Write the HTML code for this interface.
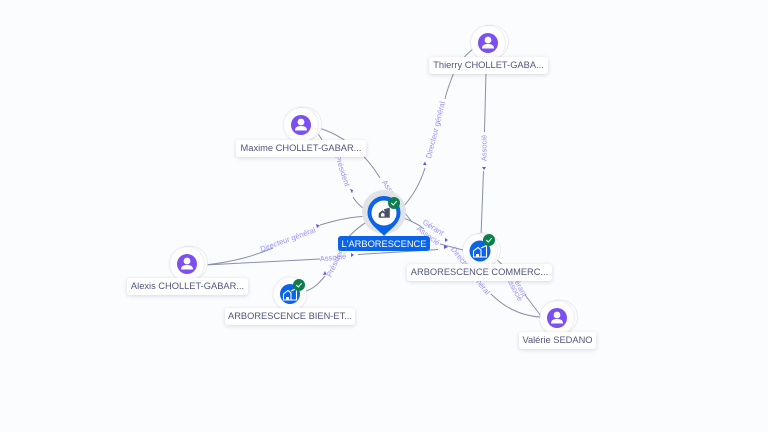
<!DOCTYPE html>
<html><head><meta charset="utf-8"><style>
html,body{margin:0;padding:0;width:768px;height:432px;overflow:hidden;background:#fbfcfe}
svg{position:absolute;left:0;top:0}
.l{fill:none;stroke:#8a8fa8;stroke-width:1}
.t{font:7.600px "Liberation Sans",sans-serif;fill:#9a90f2;text-anchor:middle;dominant-baseline:middle}
.a{fill:#6a50e8}
.lb{position:absolute;background:#fff;border-radius:3px;box-shadow:0 1px 4px rgba(60,70,110,.2);font:9.300px/17px "Liberation Sans",sans-serif;color:#50547c;text-align:center;white-space:nowrap;overflow:hidden}
</style></head><body>
<svg width="768" height="432" viewBox="0 0 768 432">
<defs>
<filter id="s" x="-30%" y="-30%" width="160%" height="160%"><feDropShadow dx="0" dy="0" stdDeviation="1" flood-color="#6b7090" flood-opacity=".35"/></filter>
<g id="p"><circle r="10" fill="#7b4ff0"/><circle cy="-3" r="3.400" fill="#fff"/><path d="M-6 5.500c0-3.500 2.500-4.500 6-4.500s6 1 6 4.500z" fill="#fff"/></g>
<g id="c"><circle r="6" fill="#0b7f4c"/><path d="M-2.700 0l2 2 3.400-3.800" fill="none" stroke="#fff" stroke-width="1"/></g>
<g id="n"><circle cx="3.500" cy="-1" r="17" fill="#fff" stroke="#e6e7ec" stroke-width=".8"/><circle r="17" fill="#fff" filter="url(#s)"/></g>
<g id="b"><path d="M-6.500 6v-6l4.500-3.500 3 2.500v7zM1-3l5.500-2.500v11.500h-5.500" fill="none" stroke="#fff" stroke-width="1.100"/><path d="M-4 6v-3h3v3z" fill="#fff"/></g>
</defs>
<path class="l" d="M205 265C240 261 255 255 273 248M320 225C340 219 352 217 368 216"/>
<path class="l" d="M205 265L320 259M358 254.500L438 249.500"/>
<path class="l" d="M319 128C348 137 368 158 380 178M398 204L412 222"/>
<path class="l" d="M317 132L329 151M353 197C357 204 362 208 368 211"/>
<path class="l" d="M473 49C463 57 456 66 451 80C448 88 446 94 445 99M425 168C420 184 412 198 400 210"/>
<path class="l" d="M486 72L484.500 132M483.500 171L481 236"/>
<path class="l" d="M400 217C410 220 418 224 424 229M440 244L467 251"/>
<path class="l" d="M493 256L510 272M525 295L541 316"/>
<path class="l" d="M491 294C505 308 522 316 541 317"/>
<path class="l" d="M306 291C315 288 320 282 325 276M338 250C345 240 356 228 367 222"/>
<text class="t" transform="translate(288 240) rotate(-20)">Directeur général</text>
<text class="t" transform="translate(342 171) rotate(72)">Président</text>
<text class="t" transform="translate(391 192) rotate(55)">Associé</text>
<text class="t" transform="translate(436 130) rotate(-76)">Directeur général</text>
<text class="t" transform="translate(484.500 148) rotate(-90)">Associé</text>
<text class="t" transform="translate(433 228) rotate(32)">Gérant</text>
<text class="t" transform="translate(428 236) rotate(38)">Associé</text>
<text class="t" transform="translate(470 271) rotate(52)">Directeur général</text>
<text class="t" transform="translate(519 286) rotate(62)">Gérant</text>
<text class="t" transform="translate(514 289) rotate(62)">Associé</text>
<text class="t" transform="translate(333 258) rotate(-6)">Associé</text>
<text class="t" transform="translate(336 262) rotate(-65)">Président</text>
<path class="a" d="M316 224l4 1.500-3 2.500zM350 189l3 1-1 3.500zM423 165l2-3.500 1.500 3.500zM482 167h4l-2 3zM445 238l3 2-3 2zM444 245l4 2-4 2zM351 253l3 2-3 2zM323 275l2-4 1.500 3.500z"/>
<use href="#n" x="488" y="43"/><use href="#p" x="488" y="43"/>
<use href="#n" x="301" y="125"/><use href="#p" x="301" y="125"/>
<use href="#n" x="187" y="264"/><use href="#p" x="187" y="264"/>
<use href="#n" x="557" y="318"/><use href="#p" x="557" y="318"/>
<use href="#n" x="480" y="251"/><circle cx="480" cy="251" r="10.500" fill="#0b63e8"/><use href="#b" x="480" y="251"/><use href="#c" x="489" y="240"/>
<circle cx="290" cy="294" r="16.500" fill="#fff" filter="url(#s)"/><circle cx="290" cy="294" r="10" fill="#0b63e8"/><use href="#b" x="290" y="294"/><use href="#c" x="299" y="285"/>
<circle cx="384" cy="212" r="22" fill="#e2e3e7"/>
<path d="M384 236C379 230 367.500 224 367.500 212.500a16.500 16.500 0 0 1 33 0C400.500 224 389 230 384 236z" fill="#0b63e8"/>
<circle cx="384" cy="213" r="12.500" fill="#fff"/>
<path d="M379 213.500l3.500-3 3.500 3v4h-7zM384 209.500l5.500-1.500v9.500h-3" fill="#4b5068" stroke="#4b5068" stroke-width=".6"/>
<path d="M381 214l1.500-1.500 2 1.500v2.500h-3.500z" fill="#fff"/>
<use href="#c" x="394" y="203"/>
</svg>
<div class="lb" style="left:429px;top:57px;width:119px">Thierry CHOLLET-GABA...</div>
<div class="lb" style="left:236px;top:140px;width:130px">Maxime CHOLLET-GABAR...</div>
<div class="lb" style="left:127px;top:278px;width:121px">Alexis CHOLLET-GABAR...</div>
<div class="lb" style="left:225px;top:308px;width:130px">ARBORESCENCE BIEN-ET...</div>
<div class="lb" style="left:407px;top:264px;width:145px">ARBORESCENCE COMMERC...</div>
<div class="lb" style="left:519px;top:332px;width:77px">Valérie SEDANO</div>
<div class="lb" style="left:338px;top:236px;width:92px;height:15px;line-height:17px;background:#0b63e8;color:#fff;box-shadow:none">L'ARBORESCENCE</div>
</body></html>
